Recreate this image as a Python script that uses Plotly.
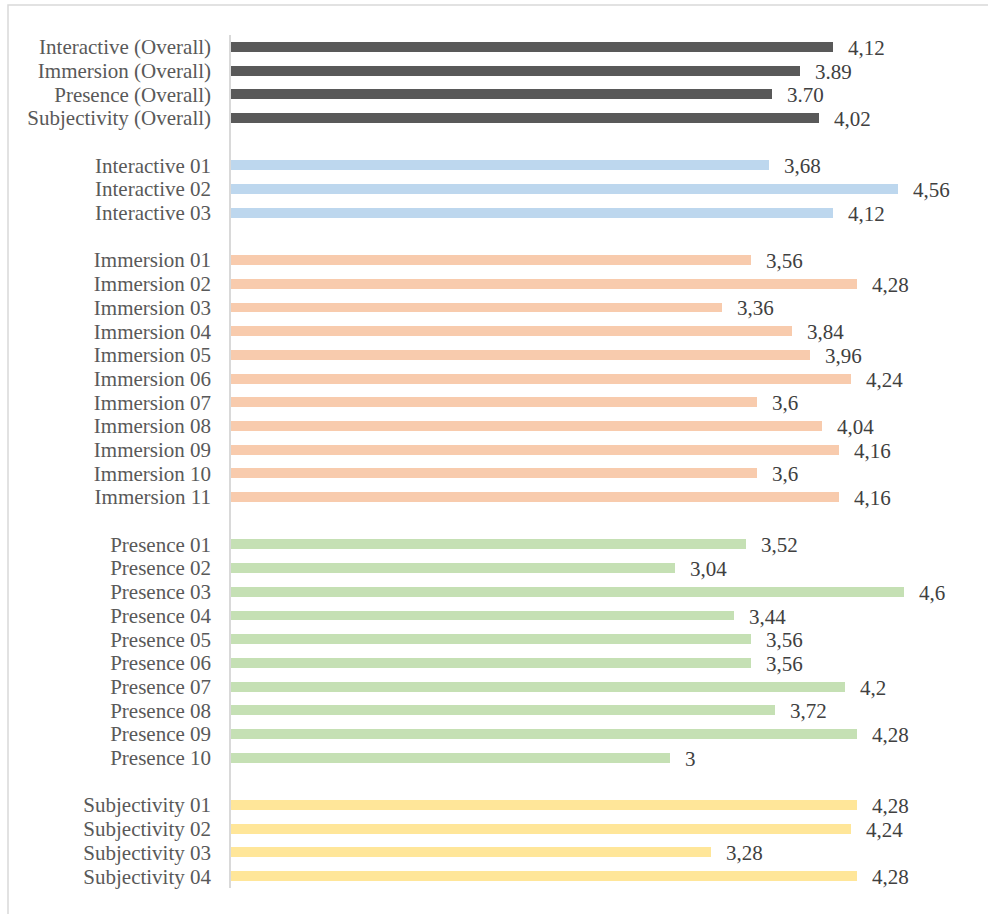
import plotly.graph_objects as go

groups = [
    ("overall", ["Interactive (Overall)", "Immersion (Overall)", "Presence (Overall)", "Subjectivity (Overall)"]),
    ("interactive", ["Interactive 01", "Interactive 02", "Interactive 03"]),
    ("immersion", ["Immersion 01", "Immersion 02", "Immersion 03", "Immersion 04", "Immersion 05", "Immersion 06",
                   "Immersion 07", "Immersion 08", "Immersion 09", "Immersion 10", "Immersion 11"]),
    ("presence", ["Presence 01", "Presence 02", "Presence 03", "Presence 04", "Presence 05", "Presence 06",
                  "Presence 07", "Presence 08", "Presence 09", "Presence 10"]),
    ("subjectivity", ["Subjectivity 01", "Subjectivity 02", "Subjectivity 03", "Subjectivity 04"]),
]

values = {
    "overall": [4.12, 3.89, 3.70, 4.02],
    "interactive": [3.68, 4.56, 4.12],
    "immersion": [3.56, 4.28, 3.36, 3.84, 3.96, 4.24, 3.6, 4.04, 4.16, 3.6, 4.16],
    "presence": [3.52, 3.04, 4.6, 3.44, 3.56, 3.56, 4.2, 3.72, 4.28, 3],
    "subjectivity": [4.28, 4.24, 3.28, 4.28],
}

labels = {
    "overall": ["4,12", "3.89", "3.70", "4,02"],
    "interactive": ["3,68", "4,56", "4,12"],
    "immersion": ["3,56", "4,28", "3,36", "3,84", "3,96", "4,24", "3,6", "4,04", "4,16", "3,6", "4,16"],
    "presence": ["3,52", "3,04", "4,6", "3,44", "3,56", "3,56", "4,2", "3,72", "4,28", "3"],
    "subjectivity": ["4,28", "4,24", "3,28", "4,28"],
}

colors = {
    "overall": "#595959",
    "interactive": "#BDD7EE",
    "immersion": "#F8CBAD",
    "presence": "#C5E0B4",
    "subjectivity": "#FFE699",
}

FONT = "Liberation Serif"

fig = go.Figure()
tickvals, ticktext = [], []
annotations = []
pos = 0
for gi, (key, cats) in enumerate(groups):
    ys = list(range(pos, pos + len(cats)))
    fig.add_trace(go.Bar(
        x=values[key], y=ys, orientation="h",
        marker=dict(color=colors[key], line=dict(width=0)),
        width=0.42, showlegend=False, hoverinfo="x+y",
    ))
    for y, v, t in zip(ys, values[key], labels[key]):
        annotations.append(dict(x=v, y=y, text=t, xref="x", yref="y", showarrow=False,
                                xanchor="left", yanchor="middle", xshift=13, yshift=-1,
                                font=dict(family=FONT, size=21, color="#404040")))
    tickvals += ys
    ticktext += cats
    pos += len(cats) + 1

n_slots = pos - 1

fig.update_layout(
    width=988, height=914,
    margin=dict(l=231, r=26, t=35, b=26),
    paper_bgcolor="white", plot_bgcolor="white",
    annotations=annotations,
    bargap=0,
    xaxis=dict(range=[0, 5], visible=False, showgrid=False, zeroline=False),
    yaxis=dict(range=[n_slots - 0.5, -0.5], tickvals=tickvals, ticktext=ticktext,
               showgrid=False, zeroline=False, showline=True, linecolor="#D9D9D9", linewidth=1.5,
               ticks="", ticklabelstandoff=14,
               tickfont=dict(family=FONT, size=21, color="#595959")),
    shapes=[dict(type="rect", xref="paper", yref="paper",
                 x0=-223 / 731, x1=1 + 40 / 731, y0=-40 / 853, y1=1 + 30 / 853,
                 line=dict(color="#D9D9D9", width=1.5), fillcolor="rgba(0,0,0,0)", layer="below")],
)

fig.write_html("out.html")
